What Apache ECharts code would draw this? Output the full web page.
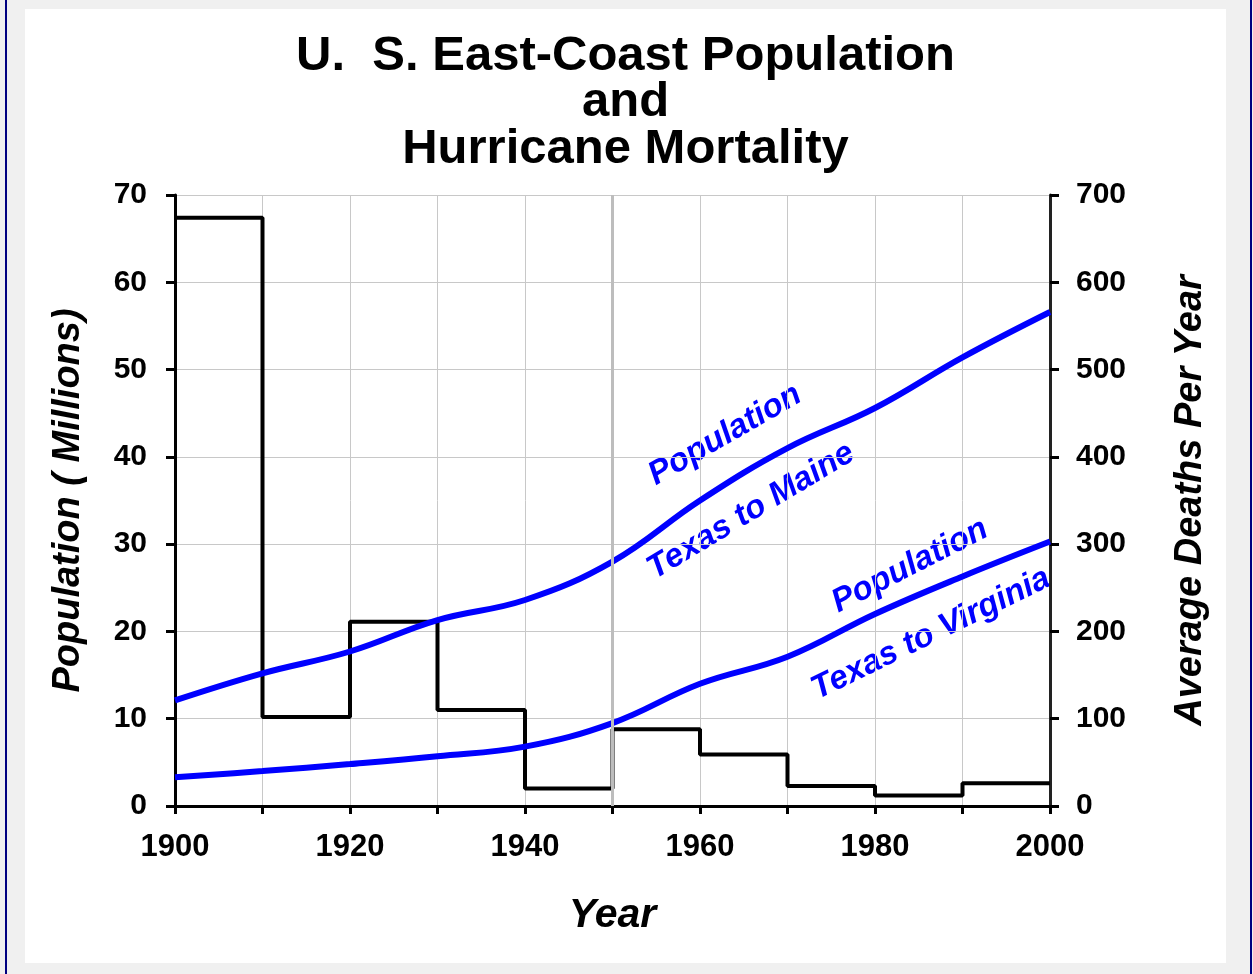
<!DOCTYPE html>
<html>
<head>
<meta charset="utf-8">
<script src="https://cdn.jsdelivr.net/npm/echarts@6/dist/echarts.min.js"></script>
<style>
  html, body { margin: 0; padding: 0; }
  .page { position: relative; width: 1253px; height: 974px; background: #f0f0f0; overflow: hidden; }
  .edge { position: absolute; top: 0; width: 2px; height: 974px; background: #000080; }
  #chart { position: absolute; left: 25px; top: 9px; width: 1201px; height: 954px; background: #fff; }
</style>
</head>
<body>
<div class="page">
  <div class="edge" style="left:5px"></div>
  <div class="edge" style="left:1250px"></div>
  <div id="chart"></div>
</div>
<script>
// decades on the x axis
var years = [1900, 1910, 1920, 1930, 1940, 1950, 1960, 1970, 1980, 1990, 2000];
// population in millions
var popMaine = [12.1, 15.2, 17.7, 21.3, 23.6, 28.0, 35.0, 41.0, 45.6, 51.4, 56.6];
var popVirginia = [3.3, 4.0, 4.8, 5.7, 6.8, 9.5, 14.0, 17.1, 22.0, 26.3, 30.3];
// average deaths per year for each decade (last value repeats to close the step at 2000)
var deaths = [674, 102, 211, 110, 20, 88, 59, 23, 12, 26, 26];

var font = "'Liberation Sans', Arial, sans-serif";
var labelFont = "italic bold 33px " + font;

function pairs(vals) {
  return years.map(function (y, i) { return [y, vals[i]]; });
}

var chart = echarts.init(document.getElementById("chart"));
chart.setOption({
  animation: false,
  textStyle: { fontFamily: font },
  title: {
    text: "U.  S. East-Coast Population\nand\nHurricane Mortality",
    left: "center",
    top: 19,
    textStyle: {
      fontFamily: font,
      fontSize: 49,
      fontWeight: "bold",
      lineHeight: 46.5,
      color: "#000",
    },
  },
  grid: { left: 150, right: 176, top: 186, bottom: 157 },
  xAxis: {
    type: "value",
    min: 1900,
    max: 2000,
    interval: 10,
    name: "Year",
    nameLocation: "middle",
    nameGap: 89,
    nameTextStyle: { fontFamily: font, fontSize: 41, fontWeight: "bold", fontStyle: "italic", color: "#000" },
    axisLine: { lineStyle: { color: "#000", width: 3 } },
    axisTick: { length: 8, lineStyle: { color: "#000", width: 3 } },
    axisLabel: {
      margin: 26,
      fontSize: 31,
      fontWeight: "bold",
      color: "#000",
      formatter: function (v) { return (v - 1900) % 20 === 0 ? String(v) : ""; },
    },
    splitLine: { lineStyle: { color: "#c8c8c8", width: 1 } },
  },
  yAxis: [
    {
      type: "value",
      min: 0,
      max: 70,
      interval: 10,
      name: "Population ( Millions)",
      nameLocation: "middle",
      nameGap: 87,
      nameTextStyle: { fontFamily: font, fontSize: 38, fontWeight: "bold", fontStyle: "italic", color: "#000" },
      axisLine: { show: true, lineStyle: { color: "#000", width: 3 } },
      axisTick: { show: true, length: 9, lineStyle: { color: "#000", width: 3 } },
      axisLabel: { margin: 28, fontSize: 30, fontWeight: "bold", color: "#000" },
      splitLine: { lineStyle: { color: "#c8c8c8", width: 1 } },
    },
    {
      type: "value",
      min: 0,
      max: 700,
      interval: 100,
      position: "right",
      name: "Average Deaths Per Year",
      nameLocation: "middle",
      nameGap: 122,
      nameTextStyle: { fontFamily: font, fontSize: 38, fontWeight: "bold", fontStyle: "italic", color: "#000" },
      axisLine: { show: true, lineStyle: { color: "#222", width: 3 } },
      axisTick: { show: true, length: 9, lineStyle: { color: "#000", width: 3 } },
      axisLabel: { margin: 26, fontSize: 30, fontWeight: "bold", color: "#000" },
      splitLine: { show: false },
    },
  ],
  series: [
    {
      name: "Deaths",
      type: "line",
      yAxisIndex: 1,
      step: "end",
      symbol: "none",
      data: pairs(deaths),
      lineStyle: { color: "#000", width: 4 },
      z: 2,
      markLine: {
        silent: true,
        symbol: "none",
        label: { show: false },
        lineStyle: { color: "#bdbdbd", width: 3, type: "solid" },
        data: [{ xAxis: 1950 }],
      },
    },
    {
      name: "Texas to Maine",
      type: "line",
      smooth: 0.4,
      symbol: "none",
      data: pairs(popMaine),
      lineStyle: { color: "#0000ff", width: 6 },
      z: 3,
    },
    {
      name: "Texas to Virginia",
      type: "line",
      smooth: 0.4,
      symbol: "none",
      data: pairs(popVirginia),
      lineStyle: { color: "#0000ff", width: 6 },
      z: 3,
    },
  ],
  graphic: [
    {
      type: "text", x: 700, y: 426, rotation: 30 * Math.PI / 180,
      style: { text: "Population", fill: "#0000ff", font: labelFont, align: "center", verticalAlign: "middle" },
    },
    {
      type: "text", x: 726, y: 502, rotation: 31 * Math.PI / 180,
      style: { text: "Texas to Maine", fill: "#0000ff", font: labelFont, align: "center", verticalAlign: "middle" },
    },
    {
      type: "text", x: 885, y: 557, rotation: 27 * Math.PI / 180,
      style: { text: "Population", fill: "#0000ff", font: labelFont, align: "center", verticalAlign: "middle" },
    },
    {
      type: "text", x: 906, y: 625, rotation: 26 * Math.PI / 180,
      style: { text: "Texas to Virginia", fill: "#0000ff", font: labelFont, align: "center", verticalAlign: "middle" },
    },
  ],
});
</script>
</body>
</html>
